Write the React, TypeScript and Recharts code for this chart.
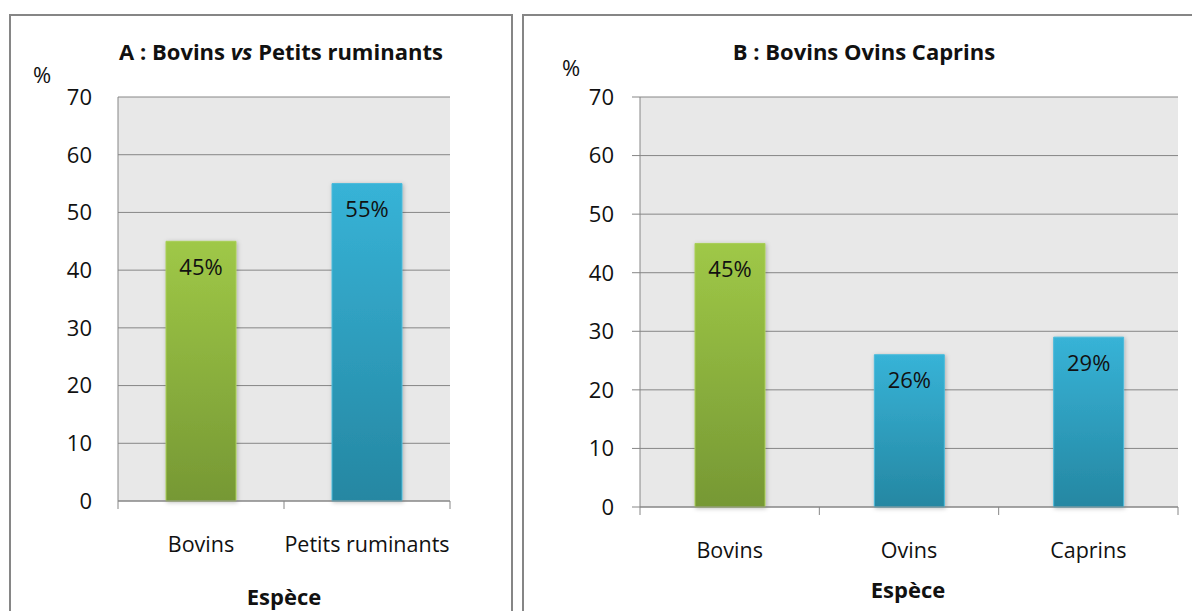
import { Bar, BarChart, CartesianGrid, Cell, LabelList, XAxis, YAxis } from "recharts"

const categoriesA = ["Bovins", "Petits ruminants"]
const valuesA = [45, 55]
const categoriesB = ["Bovins", "Ovins", "Caprins"]
const valuesB = [45, 26, 29]
const yTicks = [0, 10, 20, 30, 40, 50, 60, 70]

const FONT = "'Open Sans', sans-serif"
const GRID = "#868686"

const dataA = categoriesA.map((name, i) => ({ name, value: valuesA[i] }))
const dataB = categoriesB.map((name, i) => ({ name, value: valuesB[i] }))

function boundaryTick(halfBand: number, count: number) {
  return (props: any) => {
    const { x, y, payload, index } = props
    return (
      <g>
        <line x1={x - halfBand} x2={x - halfBand} y1={y} y2={y + 8} stroke={GRID} />
        {index === count - 1 && (
          <line x1={x + halfBand} x2={x + halfBand} y1={y} y2={y + 8} stroke={GRID} />
        )}
        <text x={x} y={y + 51} textAnchor="middle" fontSize={21.5} fill="#111" fontFamily={FONT}>
          {payload.value}
        </text>
      </g>
    )
  }
}

function Gradients() {
  return (
    <defs>
      <linearGradient id="gGreen" x1="0" y1="0" x2="0" y2="1">
        <stop offset="0%" stopColor="#9fc847" />
        <stop offset="100%" stopColor="#769834" />
      </linearGradient>
      <linearGradient id="gBlue" x1="0" y1="0" x2="0" y2="1">
        <stop offset="0%" stopColor="#37b3d7" />
        <stop offset="100%" stopColor="#2587a2" />
      </linearGradient>
      <filter id="shadow" x="-20%" y="-10%" width="140%" height="120%">
        <feDropShadow dx="1" dy="1" stdDeviation="2" floodColor="#000" floodOpacity="0.25" />
      </filter>
    </defs>
  )
}

const fills: Record<string, string> = { green: "url(#gGreen)", blue: "url(#gBlue)" }
const strokes: Record<string, string> = { green: "#a9cf57", blue: "#4bbbdb" }
const colorsA = ["green", "blue"]
const colorsB = ["green", "blue", "blue"]

const tickStyle = { fontSize: 22, fill: "#111", fontFamily: FONT }
const textStyle = { position: "absolute" as const, fontFamily: FONT, color: "#111", whiteSpace: "nowrap" as const, lineHeight: "28px" }

export default function App() {
  return (
    <div style={{ position: "absolute", left: 0, top: 0, width: 1192, height: 611, overflow: "hidden", background: "#fff" }}>
      {/* panel frames */}
      <div style={{ position: "absolute", left: 9, top: 14, width: 500, height: 640, border: `2px solid ${GRID}` }} />
      <div style={{ position: "absolute", left: 522, top: 14, width: 700, height: 640, border: `2px solid ${GRID}` }} />

      {/* Chart A */}
      <div style={{ position: "absolute", left: 0, top: 0 }}>
        <BarChart width={512} height={611} data={dataA} margin={{ top: 97, right: 62, left: 0, bottom: 10 }}>
          <Gradients />
          <CartesianGrid vertical={false} stroke={GRID} fill="#e8e8e8" />
          <YAxis
            width={118}
            domain={[0, 70]}
            ticks={yTicks}
            interval={0}
            axisLine={{ stroke: GRID }}
            tickLine={false}
            tickSize={8}
            tickMargin={18}
            tick={tickStyle}
          />
          <XAxis
            dataKey="name"
            height={100}
            axisLine={{ stroke: GRID }}
            tickLine={false}
            tickSize={0}
            tickMargin={0}
            interval={0}
            tick={boundaryTick(83, categoriesA.length)}
          />
          <Bar dataKey="value" barSize={70} isAnimationActive={false} filter="url(#shadow)">
            {dataA.map((d, i) => (
              <Cell key={d.name} fill={fills[colorsA[i]]} stroke={strokes[colorsA[i]]} strokeWidth={1} />
            ))}
            <LabelList
              dataKey="value"
              position="insideTop"
              offset={18}
              formatter={(v: any) => `${v}%`}
              style={tickStyle}
            />
          </Bar>
        </BarChart>
      </div>
      <div style={{ ...textStyle, left: 80, width: 402, top: 37, textAlign: "center", fontSize: 22, fontWeight: 700 }}>
        A : Bovins <i>vs</i> Petits ruminants
      </div>
      <div style={{ ...textStyle, left: 33, top: 60, fontSize: 22 }}>%</div>
      <div style={{ ...textStyle, left: 184, width: 200, top: 582, textAlign: "center", fontSize: 22, fontWeight: 700 }}>
        Espèce
      </div>

      {/* Chart B */}
      <div style={{ position: "absolute", left: 520, top: 0 }}>
        <BarChart width={672} height={611} data={dataB} margin={{ top: 97, right: 14, left: 0, bottom: 10 }}>
          <Gradients />
          <CartesianGrid vertical={false} stroke={GRID} fill="#e8e8e8" />
          <YAxis
            width={120}
            domain={[0, 70]}
            ticks={yTicks}
            interval={0}
            axisLine={{ stroke: GRID }}
            tickLine={{ stroke: GRID }}
            tickSize={8}
            tickMargin={18}
            tick={tickStyle}
          />
          <XAxis
            dataKey="name"
            height={94}
            axisLine={{ stroke: GRID }}
            tickLine={false}
            tickSize={0}
            tickMargin={0}
            interval={0}
            tick={boundaryTick(538 / 6, categoriesB.length)}
          />
          <Bar dataKey="value" barSize={70} isAnimationActive={false} filter="url(#shadow)">
            {dataB.map((d, i) => (
              <Cell key={d.name} fill={fills[colorsB[i]]} stroke={strokes[colorsB[i]]} strokeWidth={1} />
            ))}
            <LabelList
              dataKey="value"
              position="insideTop"
              offset={18}
              formatter={(v: any) => `${v}%`}
              style={tickStyle}
            />
          </Bar>
        </BarChart>
      </div>
      <div style={{ ...textStyle, left: 694, width: 340, top: 37, textAlign: "center", fontSize: 22, fontWeight: 700 }}>
        B : Bovins Ovins Caprins
      </div>
      <div style={{ ...textStyle, left: 562, top: 53, fontSize: 22 }}>%</div>
      <div style={{ ...textStyle, left: 808, width: 200, top: 575, textAlign: "center", fontSize: 22, fontWeight: 700 }}>
        Espèce
      </div>
    </div>
  )
}
